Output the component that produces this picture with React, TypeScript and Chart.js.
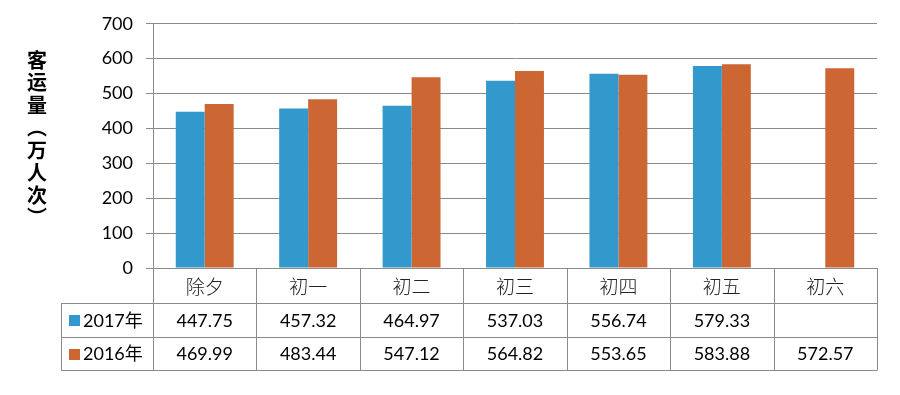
import React, { useEffect, useRef } from 'react';
import { Chart, registerables } from 'chart.js';

Chart.register(...registerables);

const categories = ['除夕', '初一', '初二', '初三', '初四', '初五', '初六'];
const series2017: (number | null)[] = [447.75, 457.32, 464.97, 537.03, 556.74, 579.33, null];
const series2016: (number | null)[] = [469.99, 483.44, 547.12, 564.82, 553.65, 583.88, 572.57];
const seriesNames = ['2017年', '2016年'];
const seriesColors = ['#3399CC', '#CC6633'];
const yMin = 0;
const yMax = 700;
const yStep = 100;
const yTitleChars = ['客', '运', '量', '︵', '万', '人', '次', '︶'];

const FONT = 'Lato, "Noto Sans CJK SC", sans-serif';
const CJK = '"Noto Sans CJK SC", sans-serif';
const LINE = '#8a8a8a';

const tablePlugin = {
  id: 'dataTable',
  afterDraw(chart: any) {
    const ctx = chart.ctx as CanvasRenderingContext2D;
    const area = chart.chartArea;
    const xs = chart.scales.x;
    const left = area.left;
    const right = area.right;
    const top = area.bottom;
    const n = categories.length;
    const colW = (right - left) / n;
    const rows = [top, top + 35, top + 69, top + 102];
    const legendLeft = 61;
    const px = (v: number) => Math.round(v) + 0.5;

    ctx.save();
    ctx.strokeStyle = LINE;
    ctx.lineWidth = 1;
    ctx.beginPath();
    // horizontal lines
    for (let r = 1; r < rows.length; r++) {
      ctx.moveTo(legendLeft, px(rows[r]));
      ctx.lineTo(right, px(rows[r]));
    }
    // vertical lines
    for (let i = 0; i <= n; i++) {
      const xx = px(left + i * colW);
      ctx.moveTo(xx, top);
      ctx.lineTo(xx, rows[3] + 0.5);
    }
    ctx.moveTo(px(legendLeft), rows[1]);
    ctx.lineTo(px(legendLeft), rows[3] + 0.5);
    ctx.stroke();

    // header labels
    ctx.fillStyle = '#222';
    ctx.textAlign = 'center';
    ctx.textBaseline = 'middle';
    ctx.font = '300 19px ' + CJK;
    categories.forEach((c, i) => {
      ctx.fillText(c, xs.getPixelForValue(i), (rows[0] + rows[1]) / 2 + 1);
    });

    // data rows
    const data = [series2017, series2016];
    data.forEach((arr, r) => {
      const cy = (rows[r + 1] + rows[r + 2]) / 2 + 1;
      // legend swatch + name
      ctx.fillStyle = seriesColors[r];
      ctx.fillRect(69, Math.round(cy - 6), 11, 11);
      ctx.fillStyle = '#000';
      ctx.textAlign = 'left';
      ctx.font = '18px ' + FONT;
      ctx.fillText(seriesNames[r], 83, cy);
      ctx.textAlign = 'center';
      arr.forEach((v, i) => {
        if (v === null) return;
        ctx.fillText(v.toFixed(2), xs.getPixelForValue(i), cy);
      });
    });

    // y axis title (vertical writing)
    ctx.font = 'bold 20px ' + CJK;
    ctx.fillStyle = '#000';
    ctx.textAlign = 'center';
    yTitleChars.forEach((ch, i) => {
      ctx.fillText(ch, 37, 60 + i * 22.5);
    });
    ctx.restore();
  },
};

export default function App() {
  const ref = useRef<HTMLCanvasElement | null>(null);

  useEffect(() => {
    document.body.style.margin = '0';
    const canvas = ref.current;
    if (!canvas) return;
    const chart = new Chart(canvas, {
      type: 'bar',
      data: {
        labels: categories,
        datasets: [
          {
            label: seriesNames[0],
            data: series2017,
            backgroundColor: seriesColors[0],
            categoryPercentage: 0.56,
            barPercentage: 1,
          },
          {
            label: seriesNames[1],
            data: series2016,
            backgroundColor: seriesColors[1],
            categoryPercentage: 0.56,
            barPercentage: 1,
          },
        ],
      },
      options: {
        responsive: false,
        animation: false,
        devicePixelRatio: 1,
        layout: { padding: { left: 0, right: 23, top: 20, bottom: 127 } },
        plugins: {
          legend: { display: false },
          tooltip: { enabled: false },
          title: { display: false },
        },
        scales: {
          x: {
            display: false,
            offset: true,
          },
          y: {
            min: yMin,
            max: yMax,
            ticks: {
              stepSize: yStep,
              color: '#000',
              font: { family: FONT, size: 18 },
              padding: 13,
            },
            grid: { color: LINE, tickLength: 7 },
            border: { color: LINE },
            afterFit(scale: any) {
              scale.width = 153;
            },
          },
        },
      },
      plugins: [tablePlugin],
    });
    return () => chart.destroy();
  }, []);

  return (
    <div style={{ position: 'fixed', left: 0, top: 0, width: 900, height: 395, background: '#fff' }}>
      <canvas ref={ref} width={900} height={395} style={{ width: 900, height: 395, display: 'block' }} />
    </div>
  );
}
